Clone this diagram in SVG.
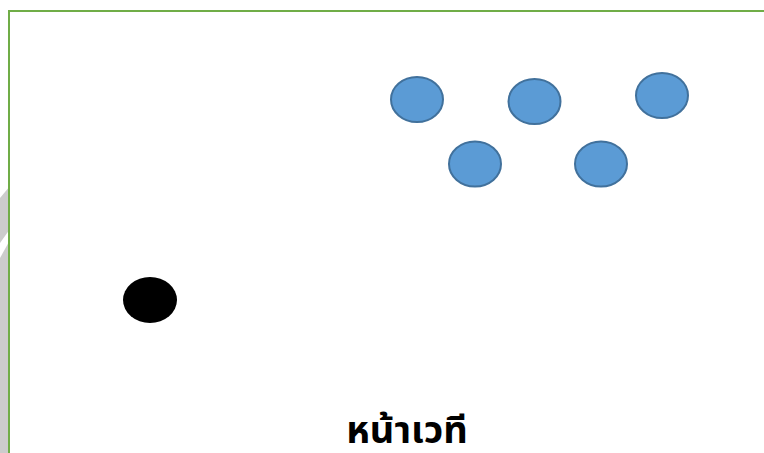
<svg xmlns="http://www.w3.org/2000/svg" width="764" height="453" viewBox="0 0 764 453">
<style>
.seat{fill:#5B9BD5;stroke:#41719C;stroke-width:2}
.bg{fill:#CCCCCC}
.label{font-family:"Noto Sans Thai","Noto Sans","DejaVu Sans",sans-serif;font-weight:bold;font-size:38px;fill:#000}
</style>
<rect width="764" height="453" fill="#FFFFFF"/>
<g id="backdrop">
<polygon class="bg" points="0,198 10,186 10,229 0,243"/>
<polygon class="bg" points="0,258 10,240 10,453 0,453"/>
</g>
<g id="stage-area">
<rect x="9" y="11" width="770" height="460" fill="#FFFFFF" stroke="#70AD47" stroke-width="2"/>
</g>
<g id="connectors"></g>
<g id="seat1"><ellipse class="seat" cx="417" cy="99.5" rx="26" ry="22.5"/></g>
<g id="seat2"><ellipse class="seat" cx="534.5" cy="101.5" rx="26" ry="22.5"/></g>
<g id="seat3"><ellipse class="seat" cx="662" cy="95.5" rx="26" ry="22.5"/></g>
<g id="seat4"><ellipse class="seat" cx="475" cy="164" rx="26" ry="22.5"/></g>
<g id="seat5"><ellipse class="seat" cx="601" cy="164" rx="26" ry="22.5"/></g>
<g id="speaker"><ellipse cx="150" cy="300" rx="27" ry="23" fill="#000000"/></g>
<g id="stage-label"><text class="label" x="407" y="443" text-anchor="middle">หน้าเวที</text></g>
</svg>
